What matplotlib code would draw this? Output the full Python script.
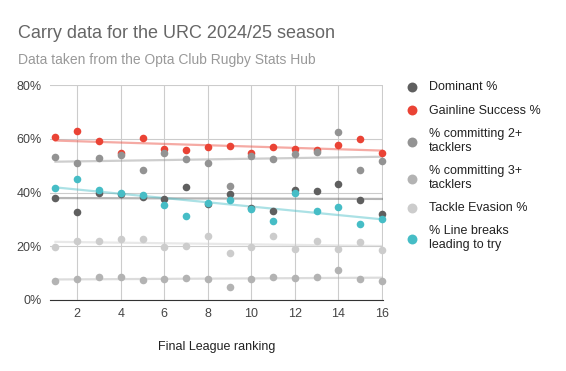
import matplotlib.pyplot as plt
import numpy as np

plt.rcParams['font.family'] = ['Liberation Sans', 'DejaVu Sans']

ranking = [1, 2, 3, 4, 5, 6, 7, 8, 9, 10, 11, 12, 13, 14, 15, 16]

dominant = [38.1, 32.9, 39.7, 39.5, 38.3, 37.6, 42.2, 35.7, 39.4, 34.2, 33.0, 40.9, 40.7, 43.0, 37.2, 31.9]
gainline = [60.8, 62.9, 59.2, 54.8, 60.2, 56.2, 55.8, 56.8, 57.3, 54.6, 56.8, 56.2, 55.7, 57.5, 59.8, 54.8]
commit2 = [53.3, 50.8, 53.0, 54.0, 48.4, 54.6, 52.3, 51.1, 42.5, 53.7, 52.6, 54.2, 55.1, 62.4, 48.5, 51.6]
commit3 = [7.1, 7.8, 8.7, 8.7, 7.4, 7.8, 8.3, 7.7, 5.0, 7.7, 8.6, 8.1, 8.7, 11.2, 7.9, 6.9]
evasion = [19.6, 22.0, 22.0, 22.7, 22.7, 19.6, 20.2, 23.8, 17.4, 19.6, 23.9, 18.9, 22.1, 19.1, 21.7, 18.6]
linebreaks = [41.8, 44.9, 40.9, 39.9, 39.1, 35.2, 31.3, 36.0, 37.2, 34.0, 29.4, 39.7, 33.0, 34.7, 28.2, 30.1]

series = [
    ("Dominant %", dominant, "#5f5f5f"),
    ("Gainline Success %", gainline, "#ea4335"),
    ("% committing 2+\ntacklers", commit2, "#939393"),
    ("% committing 3+\ntacklers", commit3, "#b3b3b3"),
    ("Tackle Evasion %", evasion, "#cccccc"),
    ("% Line breaks\nleading to try", linebreaks, "#46bdc6"),
]

fig = plt.figure(figsize=(5.66, 3.71), dpi=100)
ax = fig.add_axes([50 / 566, 1 - 300 / 371, 333 / 566, 215 / 371])

x = np.array(ranking)
for name, vals, col in series:
    # linear trendline
    k, b = np.polyfit(x, vals, 1)
    ax.plot([x[0], x[-1]], [k * x[0] + b, k * x[-1] + b], color=col, alpha=0.45, lw=1.6, zorder=2)
for name, vals, col in series:
    ax.scatter(x, vals, s=30, color=col, label=name, zorder=3, linewidths=0, clip_on=False)

ax.set_xlim(0.75, 16.05)
ax.set_ylim(0, 80)
ax.set_xticks(range(2, 17, 2))
ax.set_yticks(range(0, 81, 20))
ax.set_yticklabels([f"{v}%" for v in range(0, 81, 20)])
ax.grid(True, color="#cccccc", lw=0.8)
ax.set_axisbelow(True)
for s in ["top", "right", "left"]:
    ax.spines[s].set_visible(False)
ax.spines["bottom"].set_color("#333333")
ax.tick_params(length=0, labelsize=9, colors="#444444", pad=6)
ax.set_xlabel("Final League ranking", fontsize=9, color="#222222", labelpad=15)

fig.text(18 / 566, 1 - 38 / 371, "Carry data for the URC 2024/25 season", fontsize=13, color="#666666")
fig.text(18 / 566, 1 - 64 / 371, "Data taken from the Opta Club Rugby Stats Hub", fontsize=10, color="#999999")

fig.legend(loc="upper left", bbox_to_anchor=(388 / 566, 1 - 70 / 371), frameon=False,
           fontsize=9, labelspacing=0.9, handletextpad=0.4, markerscale=1.3,
           labelcolor="#222222")

fig.savefig("out.png", dpi=100)
